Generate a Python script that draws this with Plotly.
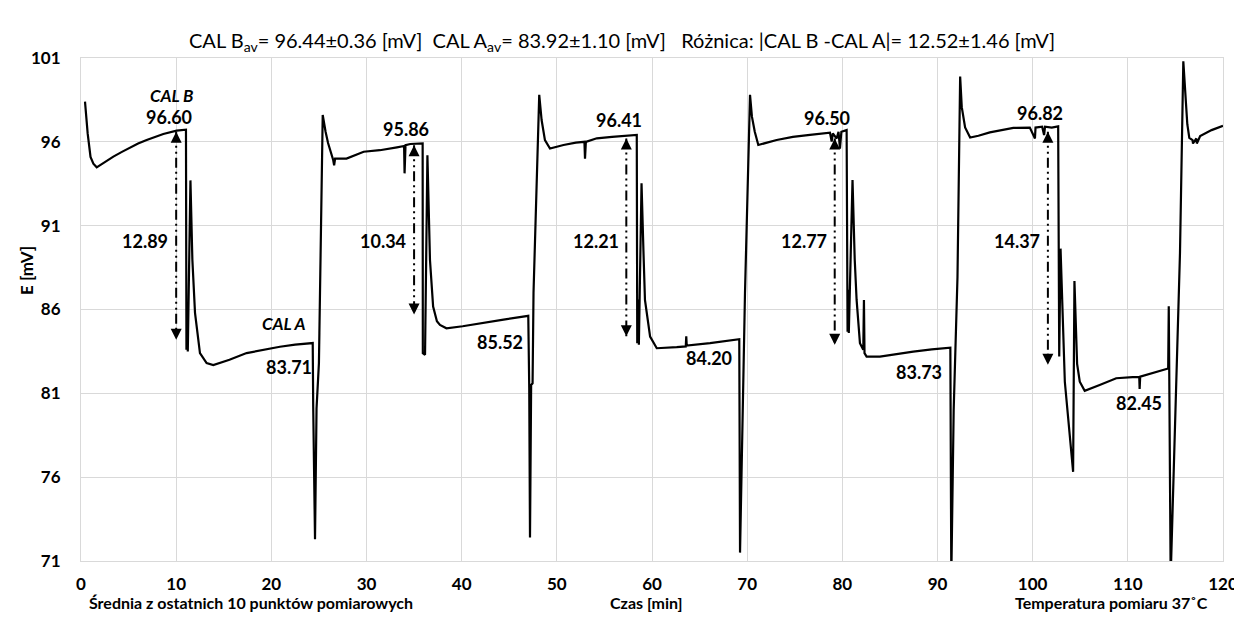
import numpy as np
import plotly.graph_objects as go

# ---- measured trace (time in min, potential in mV) ----
time_min = [
    0.42, 0.7, 1.0, 1.3, 1.65, 2.5, 3.4, 4.3, 5.15, 6.0, 6.9, 7.8, 8.65, 10.05, 10.6, 11.03,
    11.08, 11.15, 11.22, 11.5, 11.7, 11.98, 12.5, 13.2, 13.9, 15.6, 17.4, 19.1, 20.9, 22.5, 24.35,
    24.4, 24.59, 24.75, 25.0, 25.05, 25.4, 25.7, 25.96, 26.5, 26.6, 26.7, 27.9, 29.7, 31.4, 33.2,
    33.95, 34.0, 34.1, 34.6, 35.9,
    35.92, 36.15, 36.4, 36.55, 36.67, 37.0, 37.4, 37.72, 38.4, 40.1, 41.9, 44.4, 47.0,
    47.1, 47.18, 47.3, 47.45, 47.55, 48.15, 48.4, 48.75, 49.28, 50.7, 52.0, 52.9, 52.96, 53.05,
    54.2, 55.8, 57.3, 58.4,
    58.45, 58.55, 58.62, 58.9, 59.1, 59.26, 59.8, 60.5, 62.6, 63.55, 63.6, 63.65, 66.1, 69.17,
    69.25, 69.5, 69.77, 70.3, 70.5, 70.8, 71.17, 73.1, 74.8, 76.6, 78.7, 78.88, 79.0, 79.4, 79.6,
    79.75, 79.9, 80.45,
    80.55, 80.62, 80.68, 81.07, 81.3, 81.5, 81.85, 82.2, 82.27, 82.33, 82.55, 83.95, 85.7, 87.45,
    89.4, 91.35,
    91.45, 91.7, 92.1, 92.38, 92.55, 92.9, 93.43, 94.3, 95.5, 97.97, 99.7, 100.24, 100.3, 101.0,
    101.2, 101.3, 102.0, 102.68,
    102.79, 102.93, 103.38, 103.73, 104.08, 104.25, 104.39, 104.67, 104.95, 105.47, 107.04, 108.78,
    110.5, 111.2, 111.24, 111.3, 114.24,
    114.3, 114.35, 114.5, 115.48, 115.83, 116.25, 116.46, 116.8, 116.85, 117.2, 117.25, 117.6,
    118.8, 120.0,
]
potential_mv = [
    98.4, 96.5, 95.1, 94.7, 94.48, 94.8, 95.12, 95.4, 95.67, 95.9, 96.11, 96.3, 96.47, 96.67, 96.72, 96.72,
    83.6, 86.0, 83.5, 93.7, 89.0, 85.8, 83.4, 82.8, 82.69, 83.0, 83.4, 83.6, 83.78, 83.9, 84.0,
    80.2, 72.3, 80.1, 82.8, 84.6, 97.6, 96.6, 95.93, 94.92, 94.6, 95.0, 95.0, 95.41, 95.5, 95.67,
    95.75, 94.12, 95.8, 95.87, 95.91,
    83.4, 83.3, 95.2, 91.0, 88.95, 86.17, 85.3, 85.08, 84.88, 85.0, 85.18, 85.4, 85.62,
    81.3, 72.4, 81.5, 81.6, 87.0, 98.8, 97.3, 96.1, 95.6, 95.81, 95.95, 96.0, 95.0, 96.0,
    96.21, 96.3, 96.35, 96.41,
    83.99, 86.6, 83.9, 93.53, 89.5, 86.57, 84.38, 83.69, 83.75, 83.8, 84.4, 83.85, 83.99, 84.23,
    71.5, 80.0, 86.97, 98.8, 97.5, 96.6, 95.81, 96.11, 96.3, 96.41, 96.55, 96.01, 96.5, 96.2, 96.6,
    95.6, 96.6, 96.7,
    84.68, 87.17, 84.6, 93.72, 89.0, 86.57, 83.99, 83.6, 86.57, 83.4, 83.19, 83.19, 83.35, 83.49,
    83.62, 83.72,
    70.0, 80.0, 87.94, 99.89, 98.07, 96.86, 96.26, 96.36, 96.56, 96.83, 96.85, 96.2, 96.85, 96.9,
    96.4, 96.9, 96.85, 96.92,
    83.19, 89.63, 81.69, 79.54, 77.18, 76.32, 87.7, 82.76, 81.69, 81.15, 81.5, 81.9,
    81.97, 81.97, 81.26, 82.0, 82.48,
    86.2, 82.4, 70.0, 89.36, 100.8, 97.05, 96.24, 96.1, 95.9, 96.2, 95.9, 96.34,
    96.7, 96.95,
]

# ---- calibration results (mean of last 10 points) ----
cal_b_values = [96.60, 95.86, 96.41, 96.50, 96.82]
cal_a_values = [83.71, 85.52, 84.20, 83.73, 82.45]
diff_values = [12.89, 10.34, 12.21, 12.77, 14.37]
arrow_time = [10.0, 35.0, 57.3, 79.2, 101.6]
arrow_top = [96.6, 95.8, 96.2, 96.2, 96.6]
arrow_bottom = [84.2, 85.7, 84.4, 83.9, 82.7]
cal_a_label_time = [21.9, 44.0, 66.0, 88.1, 111.2]
cal_a_label_mv = [82.56, 84.08, 83.1, 82.3, 80.45]

x_ticks = list(range(0, 121, 10))
y_ticks = [71, 76, 81, 86, 91, 96, 101]

FONT = "Lato"
GRID = "#d9d9d9"

fig = go.Figure()

fig.add_trace(go.Scatter(
    x=time_min, y=potential_mv, mode="lines",
    line=dict(color="black", width=2.2), showlegend=False, hoverinfo="skip",
))

# dashed (long dash dot dot) arrows
for t, top, bot in zip(arrow_time, arrow_top, arrow_bottom):
    fig.add_trace(go.Scatter(
        x=[t, t], y=[top, bot], mode="lines",
        line=dict(color="black", width=2, dash="10px,4px,2px,4px,2px,4px"),
        showlegend=False, hoverinfo="skip",
    ))

annotations = []
for t, top, bot in zip(arrow_time, arrow_top, arrow_bottom):
    for tip, tail in ((top, top - 0.6), (bot, bot + 0.6)):
        annotations.append(dict(
            x=t, y=tip, ax=t, ay=tail, xref="x", yref="y", axref="x", ayref="y",
            text="", showarrow=True, arrowhead=2, arrowsize=1.1, arrowwidth=2,
            arrowcolor="black", standoff=0, startstandoff=0,
        ))

label_font = dict(family=FONT, size=18, color="black", weight=700)

for t, b, d in zip(arrow_time, cal_b_values, diff_values):
    annotations.append(dict(x=t - 0.8, y=b + 0.9, text=f"{b:.2f}", showarrow=False,
                            xref="x", yref="y", font=label_font))
    annotations.append(dict(x=t - 0.6, y=90.1, text=f"{d:.2f}", showarrow=False,
                            xref="x", yref="y", xanchor="right", font=label_font))

for t, e, a in zip(cal_a_label_time, cal_a_label_mv, cal_a_values):
    annotations.append(dict(x=t, y=e, text=f"{a:.2f}", showarrow=False,
                            xref="x", yref="y", font=label_font))

annotations.append(dict(x=9.5, y=98.75, text="<i>CAL B</i>", showarrow=False,
                        xref="x", yref="y", font=dict(family=FONT, size=17, color="black", weight=700)))
annotations.append(dict(x=21.3, y=85.18, text="<i>CAL A</i>", showarrow=False,
                        xref="x", yref="y", font=dict(family=FONT, size=17, color="black", weight=700)))

# title built from the calibration values
b_av, b_sd = np.mean(cal_b_values), np.std(cal_b_values, ddof=1)
a_av, a_sd = np.mean(cal_a_values), np.std(cal_a_values, ddof=1)
d_av, d_sd = np.mean(diff_values), np.std(diff_values, ddof=1)
sp = "\u00a0"
title = (f"CAL B<sub>av</sub>= {b_av:.2f}±{b_sd:.2f} [mV]{sp*2}"
         f"CAL A<sub>av</sub>= {a_av:.2f}±{a_sd:.2f} [mV]{sp*3}"
         f"Różnica:{sp}|CAL B -CAL A|= {d_av:.2f}±{d_sd:.2f} [mV]")
annotations.append(dict(x=0.4733, y=1.032, xref="paper", yref="paper", text=title, showarrow=False,
                        xanchor="center", yanchor="middle",
                        font=dict(family=FONT, size=20, color="black")))

bottom_font = dict(family=FONT, size=16, color="black", weight=700)
annotations.append(dict(x=0.005, y=-0.082, xref="paper", yref="paper", showarrow=False,
                        text="Średnia z ostatnich 10 punktów pomiarowych", xanchor="left",
                        yanchor="middle", font=bottom_font))
annotations.append(dict(x=0.4956, y=-0.082, xref="paper", yref="paper", showarrow=False,
                        text="Czas [min]", xanchor="center", yanchor="middle", font=bottom_font))
annotations.append(dict(x=0.9886, y=-0.082, xref="paper", yref="paper", showarrow=False,
                        text="Temperatura pomiaru 37˚C", xanchor="right", yanchor="middle",
                        font=bottom_font))
annotations.append(dict(x=-0.0475, y=0.578, xref="paper", yref="paper", showarrow=False,
                        text="E [mV]", textangle=-90, xanchor="center", yanchor="middle",
                        font=dict(family=FONT, size=17, color="black", weight=700)))

# page body adds an 8 px offset; size and margins compensate so the plot area
# lands at x 81-1223, y 58-561 of the window
fig.update_layout(
    width=1234, height=612,
    margin=dict(l=73, r=19, t=50, b=59, autoexpand=False),
    paper_bgcolor="white", plot_bgcolor="white",
    annotations=annotations,
    shapes=[dict(type="line", xref="paper", yref="paper", x0=-0.0648, x1=-0.0648,
                 y0=-0.12, y1=1.1, line=dict(color=GRID, width=1))],
)
fig.update_xaxes(
    range=[0, 120], tickvals=x_ticks, showgrid=True, gridcolor=GRID, gridwidth=1,
    zeroline=False, showline=True, linecolor=GRID, mirror=True, ticks="",
    tickfont=dict(family=FONT, size=17, color="black", weight=700), ticklabelstandoff=8,
)
fig.update_yaxes(
    range=[71, 101], tickvals=y_ticks, showgrid=True, gridcolor=GRID, gridwidth=1,
    zeroline=False, showline=True, linecolor=GRID, mirror=True, ticks="",
    tickfont=dict(family=FONT, size=17, color="black", weight=700), ticklabelstandoff=16,
)

fig.write_html("out.html")
